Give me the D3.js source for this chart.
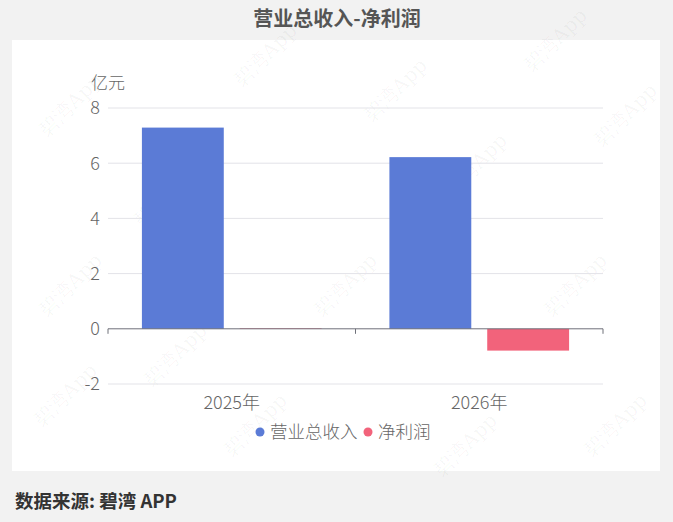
<!DOCTYPE html>
<html><head><meta charset="utf-8">
<script src="https://cdn.jsdelivr.net/npm/d3@7"></script>
<style>
html,body{margin:0;padding:0;background:#f2f2f2;}
svg{display:block;font-family:"Noto Sans CJK SC","Noto Sans",sans-serif;}
</style></head>
<body><svg id="c" width="673" height="522"></svg>
<script>
const categories = ["2025年","2026年"];
const seriesNames = ["营业总收入","净利润"];
const revenue = [7.29, 6.22];
const netProfit = [0.02, -0.79];
const yTicks = [-2, 0, 2, 4, 6, 8];
const colors = ["#5b7bd6", "#f2637b"];
const title = "营业总收入-净利润";
const unit = "亿元";
const source = "数据来源: 碧湾 APP";

const svg = d3.select("#c");
svg.append("rect").attr("width",673).attr("height",522).attr("fill","#f2f2f2");
svg.append("rect").attr("x",12).attr("y",40).attr("width",648).attr("height",431).attr("fill","#fff");

// watermarks
const wm = [[75,110],[270,60],[400,95],[560,45],[170,200],[480,170],[630,120],[75,290],[350,290],[580,290],[70,400],[260,430],[470,450],[620,430],[180,360]];
svg.append("g").selectAll("text").data(wm).join("text")
  .attr("transform",d=>`translate(${d[0]},${d[1]}) rotate(-45)`)
  .attr("text-anchor","middle").attr("font-size",20).attr("font-family","'DejaVu Serif',serif")
  .attr("fill","rgba(0,0,0,0.04)").text("碧湾App");

svg.append("text").attr("x",337).attr("y",26).attr("text-anchor","middle")
  .attr("font-size",20).attr("font-weight","bold").attr("fill","#555").text(title);

const L=108, R=603, T=108, B=384;
const y = d3.scaleLinear().domain([-2,8]).range([B,T]);
const x0 = d3.scaleBand().domain(categories).range([L,R]).padding(0);
const bw0 = x0.bandwidth();
const x1 = d3.scaleBand().domain(seriesNames).range([bw0*0.137, bw0*0.863]).paddingInner(0.163).paddingOuter(0);

// grid
svg.append("g").selectAll("line").data(yTicks.filter(d=>d!==0)).join("line")
  .attr("x1",L).attr("x2",R).attr("y1",d=>y(d)).attr("y2",d=>y(d))
  .attr("stroke","#e3e3e8").attr("stroke-width",1);

// y labels
svg.append("g").selectAll("text").data(yTicks).join("text")
  .attr("x",100).attr("y",d=>y(d)).attr("dy","0.35em").attr("text-anchor","end")
  .attr("font-size",18).attr("font-weight",300).attr("fill","#666").text(d=>d);
svg.append("text").attr("x",108).attr("y",89).attr("text-anchor","middle").attr("font-size",17)
  .attr("font-weight",300).attr("fill","#666").text(unit);

const data = categories.map((c,i)=>({cat:c, vals:[revenue[i], netProfit[i]]}));
const g = svg.append("g");
data.forEach(d=>{
  g.selectAll(null).data(d.vals).join("rect")
    .attr("x",(v,j)=>x0(d.cat)+x1(seriesNames[j]))
    .attr("width",x1.bandwidth())
    .attr("y",v=>y(Math.max(0,v)))
    .attr("height",v=>Math.abs(y(v)-y(0)))
    .attr("fill",(v,j)=>colors[j]);
});

// x axis
const xa = svg.append("g").attr("transform",`translate(0,${y(0)})`);
xa.append("line").attr("x1",L).attr("x2",R).attr("stroke","#6e7079").attr("stroke-width",1);
xa.selectAll("line.t").data([L, L+bw0, R]).join("line").attr("class","t")
  .attr("x1",d=>d).attr("x2",d=>d).attr("y1",0).attr("y2",5).attr("stroke","#6e7079");
svg.append("g").selectAll("text").data(categories).join("text")
  .attr("x",d=>x0(d)+bw0/2).attr("y",409).attr("text-anchor","middle")
  .attr("font-size",18).attr("font-weight",300).attr("fill","#666").text(d=>d);

// legend
const lg = svg.append("g");
const legX = [260, 368];
seriesNames.forEach((s,i)=>{
  lg.append("circle").attr("cx",legX[i]).attr("cy",432).attr("r",4.5).attr("fill",colors[i]);
  lg.append("text").attr("x",legX[i]+10).attr("y",438).attr("font-size",17.5)
    .attr("font-weight",300).attr("fill","#666").text(s);
});

svg.append("text").attr("x",15).attr("y",508).attr("font-size",18.5).attr("font-weight","bold")
  .attr("fill","#333").text(source);
</script></body></html>
